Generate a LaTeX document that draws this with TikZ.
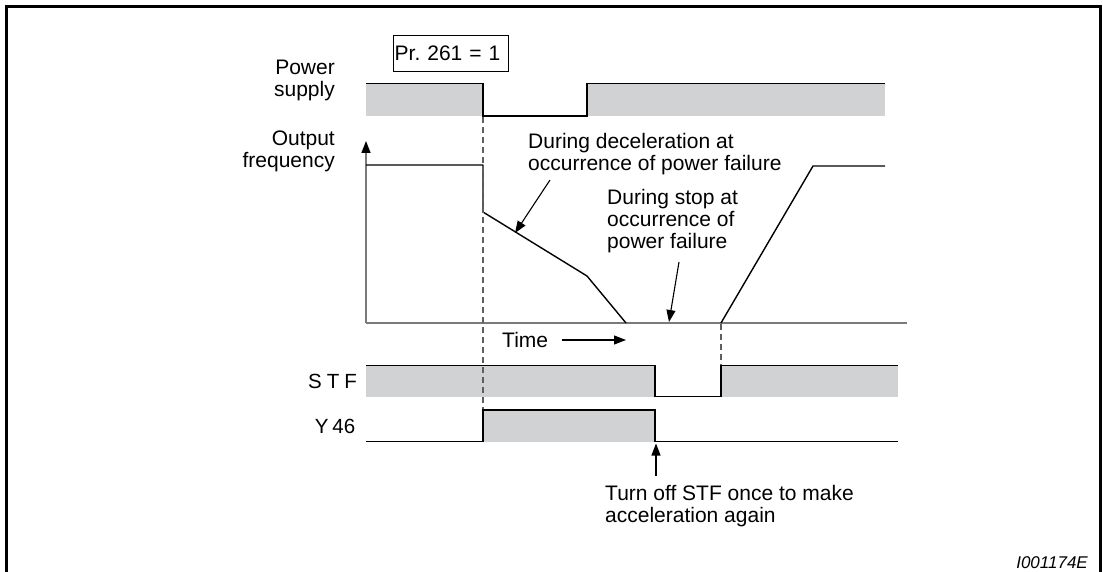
\documentclass[tikz,border=0pt]{standalone}
\usepackage{fontspec}
\setmainfont{Liberation Sans}
\frenchspacing
\usetikzlibrary{arrows.meta}
\definecolor{fillgray}{HTML}{D1D2D4}
\definecolor{axisgray}{HTML}{7A7A7A}
\definecolor{dashgray}{HTML}{5E5E5E}
\begin{document}
\begin{tikzpicture}[x=1pt,y=-1pt,
  sig/.style={line width=1.4pt, black, line join=miter},
  axisline/.style={line width=1.5pt, axisgray},
  dashline/.style={line width=1.2pt, dashgray, dash pattern=on 6pt off 4pt},
  tipline/.style={-{Triangle[length=12pt,width=9pt]}, line width=1.1pt, black},
  txt/.style={font=\fontsize{21}{21.7}\selectfont, inner sep=0pt, align=left},
  rtxt/.style={font=\fontsize{21}{21.7}\selectfont, inner sep=0pt, align=right},
  sigtxt/.style={font=\fontsize{20.5}{22}\selectfont, inner sep=0pt}
]
\useasboundingbox (0,0) rectangle (1103,572);
% frame (open at the bottom)
\draw[line width=2.2pt] (6.5,572) -- (6.5,6.5) -- (1100.5,6.5) -- (1100.5,572);

% ---- Pr. 261 = 1 box
\node[draw, line width=1pt, anchor=north west, inner xsep=1.5pt, inner ysep=0pt,
      minimum height=36pt, text width=112pt, align=left,
      font=\fontsize{21}{22}\selectfont] (pr) at (392.7,35) {Pr. 261 = 1};

% ---- labels
\node[rtxt, anchor=north east] (lps) at (335,60) {Power\\supply};
\node[rtxt, anchor=north east] (lof) at (335,130.5) {Output\\frequency};
\node[sigtxt, anchor=center] (lstf) at (332.5,381.5) {S\hspace{5pt}T\hspace{5pt}F};
\node[sigtxt, anchor=center] (ly46) at (335,426.5) {Y\hspace{4pt}46};

% ---- power supply waveform
\fill[fillgray] (366,83.5) rectangle (483,116);
\fill[fillgray] (587,83.5) rectangle (885,116);
\draw[sig] (366,83.5) -- (483,83.5) -- (483,116) -- (587,116) -- (587,83.5) -- (885,83.5);

% ---- output frequency axes
\draw[axisline] (366,323) -- (907,323);
\coordinate (ax0) at (366,323);
\coordinate (axtop) at (366,141);
\draw[axisline, -{Triangle[length=12pt,width=9pt,color=black,fill=black]}] (ax0) -- (axtop);

% ---- output frequency curve
\draw[sig, line join=round] (366,165) -- (483,165) -- (483,212) -- (587,276) -- (626,323);
\draw[sig, line join=round] (721,323) -- (813,166) -- (885,166);

% ---- STF waveform
\fill[fillgray] (366,365.7) rectangle (655,396.7);
\fill[fillgray] (721,365.7) rectangle (898,396.7);
\draw[sig] (366,365.7) -- (655,365.7) -- (655,396.7) -- (721,396.7) -- (721,365.7) -- (898,365.7);

% ---- Y46 waveform
\fill[fillgray] (483,410) rectangle (655,441.7);
\draw[sig] (366,441.7) -- (483,441.7) -- (483,410) -- (655,410) -- (655,441.7) -- (898,441.7);

% ---- dashed guide lines
\draw[dashline] (483,117) -- (483,409);
\draw[dashline] (721,324) -- (721,365);

% ---- Time
\node[txt, anchor=west] (time) at (502,340) {Time};
\coordinate (tA) at (562,340);
\coordinate (tB) at (626,340);
\draw[tipline] (tA) -- (tB);

% ---- annotations
\node[txt, anchor=north west] (ndec) at (528,133) {During deceleration at\\occurrence of power failure};
\coordinate (decA) at (550,180);
\coordinate (decB) at (515,233);
\draw[tipline] (decA) -- (decB);

\node[txt, anchor=north west] (nstop) at (607,189.5) {During stop at\\occurrence of\\power failure};
\coordinate (stA) at (679,262);
\coordinate (stB) at (669,322);
\draw[tipline] (stA) -- (stB);

\node[txt, anchor=north west] (nturn) at (605,485) {Turn off STF once to make\\acceleration again};
\coordinate (tuA) at (656,476);
\coordinate (tuB) at (656,443.5);
\draw[tipline] (tuA) -- (tuB);

% ---- figure id
\node[font=\fontsize{17}{17}\selectfont\itshape, inner sep=0pt, anchor=base east] (fid) at (1088,568) {I001174E};
\end{tikzpicture}
\end{document}
